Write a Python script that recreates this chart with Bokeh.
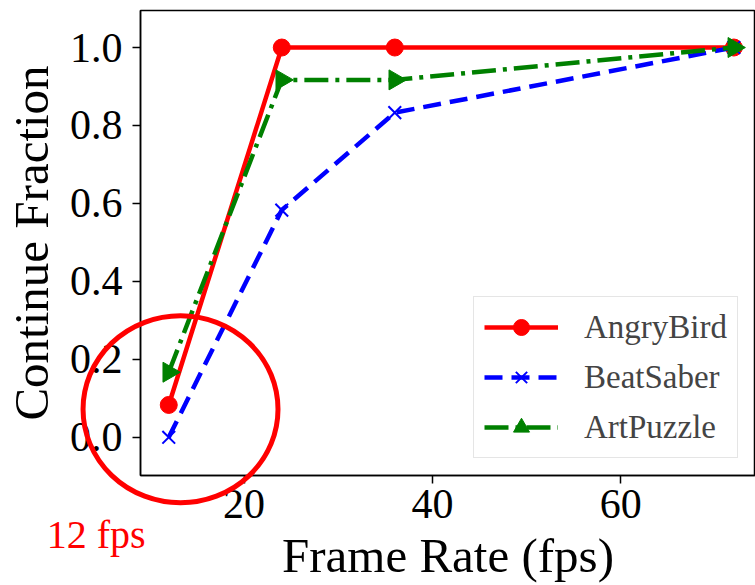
import numpy as np
from bokeh.plotting import figure
from bokeh.models import FixedTicker, Range1d, NumeralTickFormatter
from bokeh.core.properties import value
from bokeh.embed import file_html
from bokeh.resources import INLINE

frame_rate = [12, 24, 36, 72]
angry_bird = [0.083, 1.0, 1.0, 1.0]
beat_saber = [0.0, 0.583, 0.833, 1.0]
art_puzzle = [0.167, 0.917, 0.917, 1.0]
x_ticks = [20, 40, 60]
y_ticks = [0.0, 0.2, 0.4, 0.6, 0.8, 1.0]

FONT = "Liberation Serif"

p = figure(width=755, height=585, output_backend="svg", toolbar_location=None,
           x_range=Range1d(9.0, 74.3), y_range=Range1d(-0.098, 1.095),
           min_border_left=138, min_border_top=10, min_border_right=0, min_border_bottom=100)
p.grid.visible = False
p.outline_line_color = "black"
p.outline_line_width = 1.5
p.background_fill_color = "white"
p.border_fill_color = "white"

for ax in (p.xaxis[0], p.yaxis[0]):
    ax.major_label_text_font = FONT
    ax.major_label_text_font_size = "42px"
    ax.major_label_text_color = "black"
    ax.axis_label_text_font = FONT
    ax.axis_label_text_font_size = "49px"
    ax.axis_label_text_font_style = "normal"
    ax.axis_label_text_color = "black"
    ax.major_tick_out = 8
    ax.major_tick_in = 0
    ax.minor_tick_out = 0
    ax.minor_tick_in = 0
    ax.major_tick_line_width = 1.5
    ax.axis_line_width = 1.5

p.xaxis.major_label_standoff = 6
p.yaxis.major_label_standoff = 10
p.xaxis.ticker = FixedTicker(ticks=x_ticks)
p.yaxis.ticker = FixedTicker(ticks=y_ticks)
p.yaxis.formatter = NumeralTickFormatter(format="0.0")
p.xaxis.axis_label = "Frame Rate (fps)"
p.yaxis.axis_label = "Continue Fraction"
p.xaxis.axis_label_standoff = 7
p.yaxis.axis_label_standoff = 8

p.line(frame_rate, angry_bird, color="#ff0000", line_width=4.5, legend_label="AngryBird")
p.scatter(frame_rate, angry_bird, marker="circle", size=17, color="#ff0000", legend_label="AngryBird")

p.line(frame_rate, beat_saber, color="#0000ff", line_width=4.5, line_dash="18 9", legend_label="BeatSaber")
p.scatter(frame_rate, beat_saber, marker="x", size=18, line_color="#0000ff", line_width=2, legend_label="BeatSaber")

p.line(frame_rate, art_puzzle, color="#008000", line_width=4.5, line_dash="24 7 4 7", legend_label="ArtPuzzle")
p.scatter(frame_rate, art_puzzle, marker="triangle", angle=-np.pi / 2, size=20, color="#008000", legend_label="ArtPuzzle")

leg = p.legend[0]
leg.location = (333, 17)
leg.label_text_font = FONT
leg.label_text_font_size = "33px"
leg.glyph_width = 74
leg.glyph_height = 40
leg.label_height = 40
leg.spacing = 10
leg.padding = 10
leg.label_standoff = 26
leg.border_line_color = "#cccccc"
leg.border_line_width = 1.5
leg.background_fill_alpha = 0.85

# red highlight ellipse around 12 fps and its note (drawn unclipped)
p.ellipse(x=[13.25], y=[0.072], width=[20.7], height=[0.48], fill_alpha=0,
          line_color="#ff0000", line_width=5, level="overlay")
p.text(x=[-0.95], y=[-0.25], text=["12 fps"], text_color="#ff0000",
       text_font=value(FONT), text_font_size="40px", text_baseline="alphabetic",
       level="overlay")

open("out.html", "w").write(file_html(p, INLINE))
